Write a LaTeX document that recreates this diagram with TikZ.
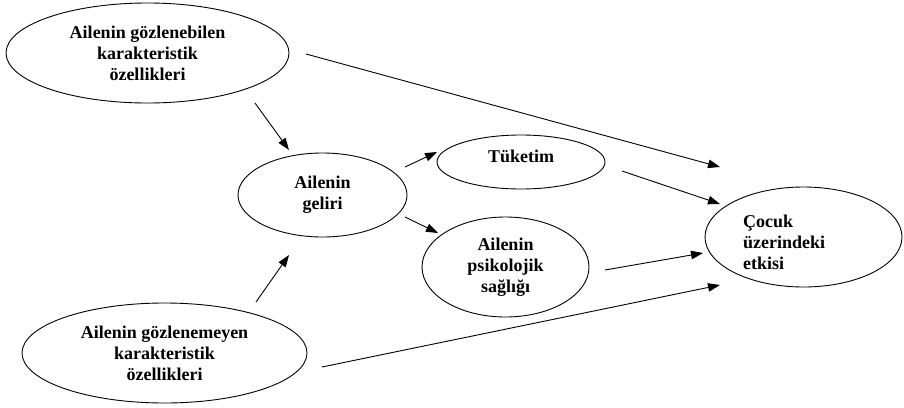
\documentclass[tikz,border=0pt]{standalone}
\usepackage{fontspec}
\setmainfont{Liberation Serif}
\usetikzlibrary{shapes.geometric,arrows.meta}
\tikzset{
  ell/.style={draw, ellipse, line width=0.9pt, inner sep=0pt, align=center,
    font=\fontsize{18}{21}\selectfont\bfseries},
  lbl/.style={inner sep=0pt, font=\fontsize{18}{21}\selectfont\bfseries},
  arr/.style={line width=0.9pt, -{Triangle[length=12pt,width=8.5pt]}}
}
\begin{document}
\begin{tikzpicture}[x=1pt,y=-1pt]
\useasboundingbox (0,0) rectangle (904,407);
% ellipses
\node[ell, minimum width=283, minimum height=100] (gozl) at (147.5,53) {Ailenin gözlenebilen\\karakteristik\\özellikleri};
\node[ell, minimum width=285, minimum height=100] (gozm) at (164.5,353) {Ailenin gözlenemeyen\\karakteristik\\özellikleri};
\node[ell, minimum width=169, minimum height=84] (gelir) at (322.5,195) {Ailenin\\geliri};
\node[ell, minimum width=168, minimum height=54, text depth=12pt] (tuk) at (521,162) {Tüketim};
\node[ell, minimum width=167, minimum height=100] (psi) at (505.5,267) {Ailenin\\psikolojik\\sağlığı};
\node[ell, minimum width=197, minimum height=100] (cocuk) at (803.5,237) {};
\node[lbl, align=left, anchor=west] (cocuktxt) at (743,242) {Çocuk\\üzerindeki\\etkisi};
% arrow end points
\coordinate (a1s) at (255,103); \coordinate (a1e) at (289,150);
\coordinate (a2s) at (306,54);  \coordinate (a2e) at (720,167);
\coordinate (a3s) at (405,167); \coordinate (a3e) at (437,152);
\coordinate (a4s) at (405,217); \coordinate (a4e) at (438,233);
\coordinate (a5s) at (622,171); \coordinate (a5e) at (720,204);
\coordinate (a6s) at (605,270); \coordinate (a6e) at (703,253);
\coordinate (a7s) at (322,367); \coordinate (a7e) at (720,285);
\coordinate (a8s) at (256,302); \coordinate (a8e) at (289,255);
% arrows
\draw[arr] (a1s) -- (a1e);
\draw[arr] (a2s) -- (a2e);
\draw[arr] (a3s) -- (a3e);
\draw[arr] (a4s) -- (a4e);
\draw[arr] (a5s) -- (a5e);
\draw[arr] (a6s) -- (a6e);
\draw[arr] (a7s) -- (a7e);
\draw[arr] (a8s) -- (a8e);
\end{tikzpicture}
\end{document}
